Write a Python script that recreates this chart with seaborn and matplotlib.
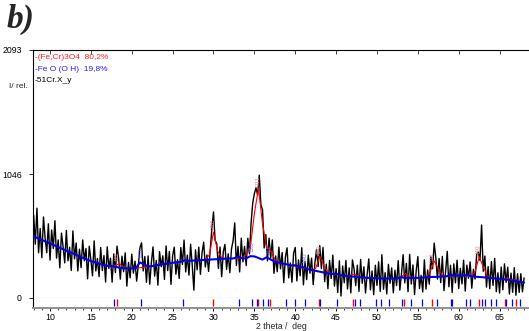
import numpy as np
import matplotlib.pyplot as plt
import seaborn as sns
import pandas as pd
from matplotlib.ticker import MultipleLocator

sns.set_theme(style="ticks")
plt.rcParams['font.family'] = ['Liberation Sans', 'DejaVu Sans']

# measured pattern, 2theta from 8 to 68 in 0.2 deg steps
obs_start, obs_step = 8.0, 0.2
observed = [
    700, 454, 758, 382, 586, 340, 684, 508, 382, 626,
    320, 574, 418, 652, 336, 490, 254, 548, 432, 296,
    570, 314, 428, 232, 566, 330, 464, 228, 412, 256,
    490, 314, 418, 162, 437, 322, 187, 482, 228, 334,
    180, 426, 232, 358, 135, 432, 249, 336, 134, 372,
    215, 438, 331, 159, 353, 222, 381, 100, 300, 170,
    370, 210, 311, 142, 273, 425, 466, 228, 350, 133,
    355, 117, 299, 431, 184, 316, 108, 391, 264, 356,
    157, 439, 231, 393, 115, 357, 429, 201, 323, 165,
    426, 283, 489, 220, 362, 193, 454, 275, 66, 407,
    238, 429, 200, 380, 471, 262, 363, 224, 404, 585,
    726, 487, 458, 249, 430, 180, 391, 452, 242, 373,
    213, 413, 484, 634, 274, 435, 220, 505, 305, 435,
    274, 504, 373, 633, 802, 881, 930, 869, 1037, 785,
    744, 422, 535, 313, 505, 338, 490, 208, 355, 222,
    429, 246, 383, 130, 346, 423, 170, 297, 133, 380,
    427, 144, 321, 187, 424, 111, 308, 155, 362, 209,
    336, 113, 290, 407, 265, 442, 249, 426, 138, 286,
    79, 317, 164, 362, 100, 248, 46, 314, 17, 270,
    129, 317, 76, 254, 43, 321, 245, 104, 277, 56,
    325, 124, 263, 42, 201, 330, 69, 228, 28, 277,
    106, 306, 55, 365, 74, 214, 34, 284, 124, 254,
    44, 234, 105, 315, 66, 206, 366, 127, 292, 53,
    368, 118, 279, 29, 230, 350, 80, 191, 51, 322,
    75, 236, 116, 347, 247, 463, 338, 159, 334, 130,
    351, 62, 223, 394, 95, 276, 47, 288, 128, 319,
    80, 250, 119, 319, 58, 277, 166, 305, 83, 242,
    160, 369, 388, 317, 616, 225, 354, 92, 265, 79,
    307, 106, 335, 54, 213, 42, 261, 69, 288, 132,
    260, 33, 210, 48, 256, 23, 205, 47, 205, 52, 170,
]

# calculated phase curves, 0.5 deg steps
calc_start, calc_step = 8.0, 0.5
spinel_calc = [
    520, 505, 490, 475, 460, 445, 430, 415, 400, 385,
    370, 355, 340, 325, 312, 300, 290, 280, 272, 265,
    275, 290, 257, 250, 250, 252, 255, 260, 265, 270,
    276, 282, 287, 292, 297, 302, 306, 310, 313, 316,
    318, 320, 322, 364, 556, 398, 340, 332, 333, 334,
    335, 340, 364, 423, 711, 928, 624, 429, 398, 326,
    299, 291, 283, 275, 267, 259, 251, 243, 236, 249,
    352, 275, 219, 203, 198, 193, 189, 185, 201, 193,
    175, 172, 170, 168, 166, 165, 164, 164, 164, 165,
    181, 207, 178, 169, 170, 172, 175, 217, 313, 249,
    191, 183, 186, 188, 190, 189, 187, 184, 220, 347,
    265, 186, 167, 164, 162, 158, 170, 149, 153, 136,
    130,
]
goethite_calc = [
    520, 505, 490, 475, 460, 445, 430, 415, 400, 385,
    370, 355, 340, 325, 312, 300, 290, 280, 272, 270,
    265, 255, 252, 250, 250, 252, 300, 285, 265, 270,
    276, 282, 287, 292, 297, 302, 306, 318, 313, 316,
    318, 320, 322, 324, 326, 328, 330, 332, 333, 334,
    350, 335, 334, 353, 351, 338, 324, 344, 325, 306,
    299, 291, 283, 275, 277, 259, 261, 243, 236, 229,
    222, 215, 209, 203, 206, 193, 189, 185, 181, 178,
    175, 172, 170, 168, 166, 165, 164, 164, 164, 165,
    176, 167, 168, 169, 170, 172, 175, 177, 178, 179,
    181, 183, 196, 188, 190, 189, 195, 184, 180, 177,
    175, 171, 167, 164, 162, 158, 155, 149, 143, 136,
    130,
]

# reflection positions
spinel_refl = [18.23, 30.0, 35.47, 36.9, 42.92, 47.08, 53.28, 56.78, 62.44, 65.7, 66.97]
goethite_refl = [17.78, 21.12, 26.26, 33.14, 34.73, 35.35, 36.04, 36.73, 38.93, 39.99,
                 41.21, 43.05, 45.09, 47.37, 47.94, 49.85, 50.55, 51.48, 53.11, 54.13,
                 55.48, 57.35, 59.1, 59.2, 60.86, 61.34, 62.85, 63.18, 64.0, 64.6,
                 65.78, 66.5, 67.46]

spinel_hkl = ["111", "220", "311", "400", "511", "440"]
spinel_hkl_pos = [18.23, 30.0, 35.47, 42.92, 56.78, 62.44]
goethite_hkl = ["110", "130", "111", "140"]
goethite_hkl_pos = [21.12, 34.73, 36.73, 41.21]

legend_lines = ["-(Fe,Cr)3O4  80,2%", "-Fe O (O H)  19,8%", "-51Cr.X_y"]
legend_colors = ["#ff2020", "#2020ff", "black"]

obs_df = pd.DataFrame({"tt": obs_start + obs_step * np.arange(len(observed)), "I": observed})
calc_df = pd.DataFrame({"tt": calc_start + calc_step * np.arange(len(spinel_calc)),
                        "spinel": spinel_calc, "goethite": goethite_calc})

fig = plt.figure(figsize=(5.29, 3.31), dpi=100)
ax = fig.add_axes([0.0624, 0.0997, 0.9376, 0.7493])
strip = fig.add_axes([0.0624, 0.0695, 0.9376, 0.0302], sharex=ax)

sns.lineplot(data=obs_df, x="tt", y="I", color="black", lw=1.0, ax=ax, zorder=2,
             estimator=None, sort=False)
sns.lineplot(data=calc_df, x="tt", y="spinel", color="#ff0000", lw=0.8, ax=ax, zorder=3,
             estimator=None)
sns.lineplot(data=calc_df, x="tt", y="goethite", color="#0000ee", lw=1.5, ax=ax, zorder=3,
             estimator=None)

# hkl labels
for lab, p in zip(spinel_hkl, spinel_hkl_pos):
    yv = np.interp(p, calc_df["tt"], calc_df["spinel"])
    ax.text(p, yv + 30, lab, rotation=90, fontsize=4.5, color="#ff8080",
            ha="center", va="bottom")
for lab, p in zip(goethite_hkl, goethite_hkl_pos):
    yv = np.interp(p, calc_df["tt"], calc_df["goethite"])
    ax.text(p, yv + 40, lab, rotation=90, fontsize=4.5, color="#7070ff",
            ha="center", va="bottom")

ax.set_xlim(7.92, 68.6)
ax.set_ylim(0, 2093)
ax.set_yticks([0, 1046, 2093])
ax.set_yticklabels(["0", "1046", "2093"])
ax.set_xlabel("")
ax.set_ylabel("")
ax.xaxis.set_major_locator(MultipleLocator(5))
ax.tick_params(axis="x", bottom=False, labelbottom=False, top=True, direction="in",
               length=3, width=0.6)
ax.tick_params(axis="y", direction="out", length=3, width=0.6, labelsize=6.3, pad=5,
               colors="black")
for s in ["top", "left"]:
    ax.spines[s].set_color("black")
    ax.spines[s].set_linewidth(0.8)
ax.spines["right"].set_visible(False)
ax.spines["bottom"].set_color("#b0b0b0")
ax.spines["bottom"].set_linewidth(0.8)

strip.vlines(spinel_refl, 0.15, 0.85, colors="#ff0000", lw=1.0)
strip.vlines(goethite_refl, 0.15, 0.85, colors="#0000ff", lw=0.9)
strip.set_ylim(0, 1)
strip.set_yticks([])
strip.spines["right"].set_visible(False)
strip.spines["top"].set_visible(False)
strip.spines["left"].set_color("black")
strip.spines["left"].set_linewidth(0.8)
strip.spines["bottom"].set_color("#909090")
strip.spines["bottom"].set_linewidth(1.4)
strip.xaxis.set_major_locator(MultipleLocator(5))
strip.xaxis.set_minor_locator(MultipleLocator(1))
strip.tick_params(axis="x", which="major", direction="out", length=2.4, width=0.7,
                  labelsize=6.3, pad=1, colors="black")
strip.tick_params(axis="x", which="minor", direction="out", length=1.5, width=0.6)
strip.set_xlabel("2 theta /  deg", fontsize=6.3, labelpad=0.5)

for i, (t, c) in enumerate(zip(legend_lines, legend_colors)):
    ax.text(0.004, 0.968 - i * 0.045, t, transform=ax.transAxes, fontsize=6,
            color=c, ha="left", va="center")

fig.text(28 / 529, 1 - 87 / 331, "I/ rel.", fontsize=6, ha="right", va="center")
fig.text(7 / 529, 1 - 19 / 331, "b)", fontsize=24, family="Liberation Serif",
         weight="bold", style="italic", ha="left", va="center")

fig.savefig("out.png", dpi=100)
